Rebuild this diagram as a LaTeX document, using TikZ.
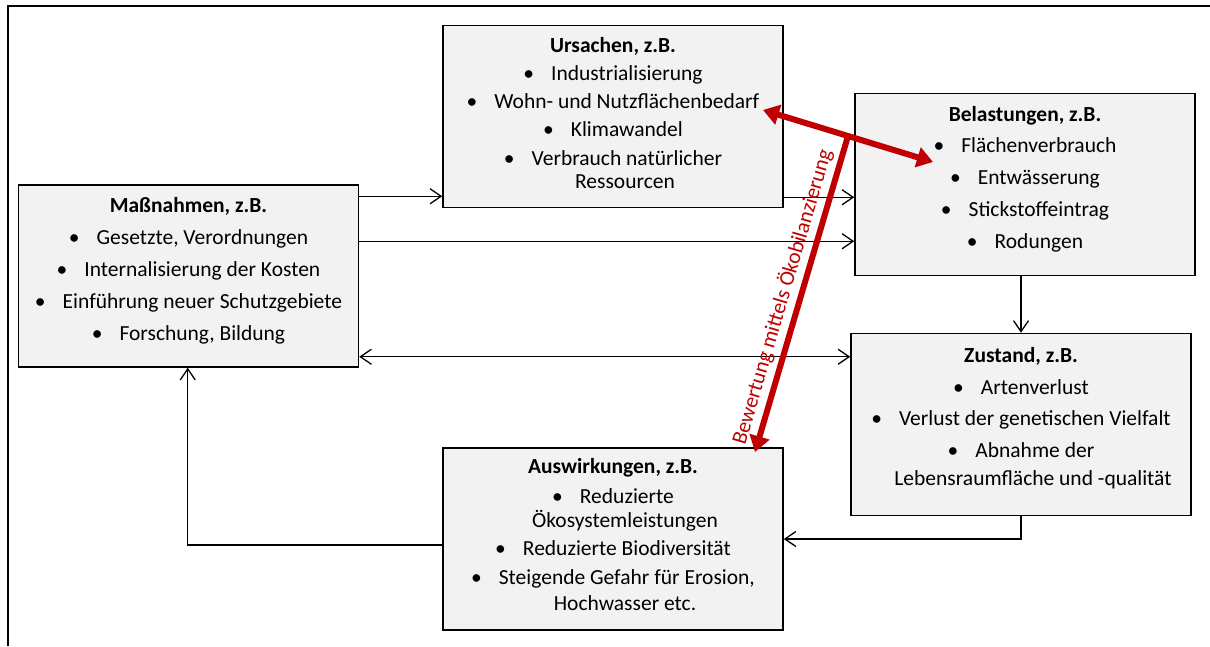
\documentclass[tikz,border=0pt]{standalone}
\usepackage{fontspec}
\setmainfont{Carlito}
\usepackage{tikz}
\usetikzlibrary{positioning}
\usetikzlibrary{arrows.meta}

\definecolor{kastengrau}{RGB}{242,242,242}
\definecolor{bewertungsrot}{RGB}{192,0,0}

\newcommand{\stichpunkt}[1]{\textbullet\hspace{17pt}#1}
\newcommand{\weiter}[1]{\hspace*{24pt}#1}

\tikzset{
  kasten/.style={draw, line width=1.5pt, fill=kastengrau, minimum width=340pt, minimum height=182pt, inner sep=0pt},
  inhalt/.style={align=center, inner sep=0pt, font=\fontsize{21.5pt}{24pt}\selectfont},
  pfeil/.style={line width=1.3pt, >={Straight Barb[length=11pt,width=15pt]}},
  rotpfeil/.style={line width=6pt, draw=bewertungsrot, >={Triangle[length=16pt,width=20pt]}}
}

\begin{document}
\begin{tikzpicture}[x=1pt, y=-1pt]
\useasboundingbox (0,0) rectangle (1210,646);

% Rahmen
\draw[line width=2pt] (8,646) -- (8,6) -- (1210,6);

% Kaesten
\node[kasten] (massn) at (188.5,276) {};
\node[kasten] (ursachen) at (613,116.5) {};
\node[kasten] (belast) at (1025,184.5) {};
\node[kasten] (zustand) at (1021,424.5) {};
\node[kasten] (auswirk) at (613,539) {};

% Texte
\node[inhalt, below=13pt of massn.north] (massn-text) {\textbf{Maßnahmen, z.B.}\\[8pt]
  \stichpunkt{Gesetzte, Verordnungen}\\[8pt]
  \stichpunkt{Internalisierung der Kosten}\\[8pt]
  \stichpunkt{Einführung neuer Schutzgebiete}\\[8pt]
  \stichpunkt{Forschung, Bildung}};
\node[inhalt, below=12pt of ursachen.north] (ursachen-text) {\textbf{Ursachen, z.B.}\\[4pt]
  \stichpunkt{Industrialisierung}\\[4.5pt]
  \stichpunkt{Wohn- und Nutzflächenbedarf}\\[4pt]
  \stichpunkt{Klimawandel}\\[5pt]
  \stichpunkt{Verbrauch natürlicher}\\[-1pt]
  \weiter{Ressourcen}};
\node[inhalt, below=13pt of belast.north] (belast-text) {\textbf{Belastungen, z.B.}\\[7pt]
  \stichpunkt{Flächenverbrauch}\\[8pt]
  \stichpunkt{Entwässerung}\\[8pt]
  \stichpunkt{Stickstoffeintrag}\\[8pt]
  \stichpunkt{Rodungen}};
\node[inhalt, below=14pt of zustand.north] (zustand-text) {\textbf{Zustand, z.B.}\\[8pt]
  \stichpunkt{Artenverlust}\\[7.5pt]
  \stichpunkt{Verlust der genetischen Vielfalt}\\[8pt]
  \stichpunkt{Abnahme der}\\[4pt]
  \weiter{Lebensraumfläche und -qualität}};
\node[inhalt, below=11pt of auswirk.north] (auswirk-text) {\textbf{Auswirkungen, z.B.}\\[6pt]
  \stichpunkt{Reduzierte}\\
  \weiter{Ökosystemleistungen}\\[4pt]
  \stichpunkt{Reduzierte Biodiversität}\\[5pt]
  \stichpunkt{Steigende Gefahr für Erosion,}\\[2pt]
  \weiter{Hochwasser etc.}};

% Verbindungen
\coordinate (m1) at ([yshift=-12pt]massn.north east);
\coordinate (m2) at ([yshift=-57pt]massn.north east);
\coordinate (m3) at ([yshift=11pt]massn.south east);
\coordinate (u1) at ([yshift=11pt]ursachen.south east);
\coordinate (a1) at ([yshift=-6pt]auswirk.west);
\draw[pfeil, ->] (m1) -- (m1 -| ursachen.west);
\draw[pfeil, ->] (u1) -- (u1 -| belast.west);
\draw[pfeil, ->] (m2) -- (m2 -| belast.west);
\draw[pfeil, <->] (m3) -- (m3 -| zustand.west);
\draw[pfeil, ->] (zustand.north |- belast.south) -- (zustand.north);
\draw[pfeil, ->] (zustand.south) |- (auswirk.east);
\draw[pfeil, ->] (a1) -| ([xshift=170pt]massn.south west);

% Bewertung
\coordinate (bedarf) at (763,110);
\coordinate (flaechen) at (933,162);
\coordinate (gabel) at (848,136);
\coordinate (spitze) at (755,452);
\draw[rotpfeil, <->] (bedarf) -- (flaechen);
\draw[rotpfeil, ->] (gabel) -- (spitze);
\node[inhalt, text=bewertungsrot, rotate=73.6] (bewertung) at (782,297) {Bewertung mittels Ökobilanzierung};

\end{tikzpicture}
\end{document}
